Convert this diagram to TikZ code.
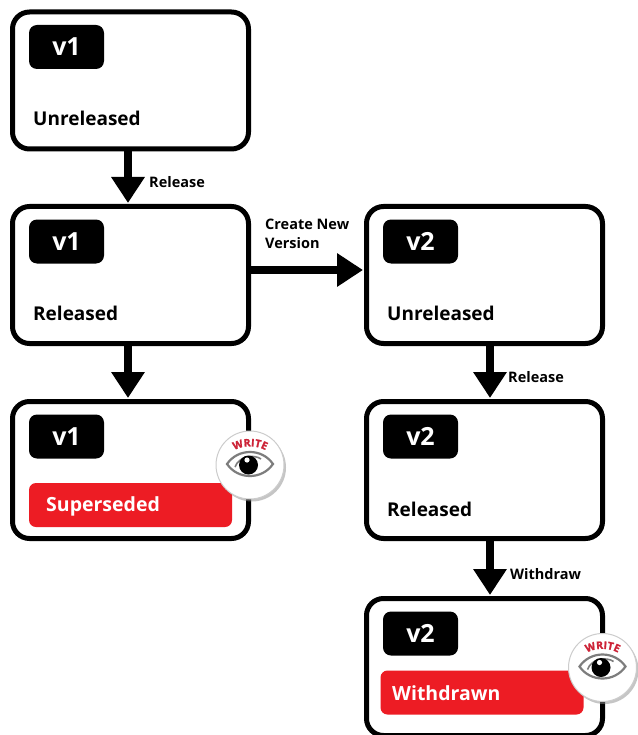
\documentclass[tikz,border=0pt]{standalone}
\usepackage{xcolor}
\usepackage{fontspec}
\setmainfont{Open Sans}
\newfontfamily\badgefont[FakeBold=1.5]{Open Sans}
\usetikzlibrary{arrows.meta, shadows, decorations.text}
\definecolor{alertred}{RGB}{237, 28, 36}
\definecolor{writered}{RGB}{205, 35, 55}
\definecolor{eyegray}{RGB}{125, 125, 125}
\tikzset{
    statebox/.style={draw=black, fill=white, line width=5pt, rounded corners=17pt, minimum width=236pt, minimum height=137pt},
    versiontag/.style={fill=black, text=white, rounded corners=8pt, minimum width=75pt, minimum height=44pt, font=\fontsize{25}{25}\selectfont\bfseries},
    statelabel/.style={anchor=base west, inner sep=0pt, font=\fontsize{19}{19}\selectfont\bfseries},
    alertbar/.style={fill=alertred, rounded corners=7pt, minimum width=203pt, minimum height=44pt},
    alertlabel/.style={statelabel, font=\fontsize{19.5}{19.5}\selectfont\bfseries, text=white},
    flowlabel/.style={anchor=base west, inner sep=0pt, align=left, font=\fontsize{14.5}{19}\selectfont\bfseries},
    flowarrow/.style={-{Triangle[length=26pt, width=32pt]}, line width=8.5pt, draw=black, shorten >=1pt},
    pics/writebadge/.style={code={
        \node[circle, fill=white, draw=black!20, line width=1pt, minimum size=68pt, drop shadow={shadow xshift=2pt, shadow yshift=-2.5pt, fill=black!45}] (-disc) at (0, 0) {};
        \path[decorate, decoration={text along path, text align=center, text color=writered, text={|\fontsize{10.5}{10.5}\badgefont\bfseries|WRITE}}] (-18, -13) .. controls (-9, -20.5) and (9, -20.5) .. (18, -13);
        \draw[eyegray, line width=2.2pt] (-23, -1) .. controls (-12, -17) and (12, -17) .. (23, -1) .. controls (12, 15) and (-12, 15) .. (-23, -1) -- cycle;
        \draw[eyegray, line width=1.6pt] (-15, 2) .. controls (-11, -9) and (4, -11) .. (11, -6);
        \fill[black] (-1.5, 0) circle (9.5);
        \fill[white] (-3, -5) circle (2.6);
    }}
}
\begin{document}
\begin{tikzpicture}[x=1pt, y=-1pt]
    \useasboundingbox (0, 0) rectangle (637, 735);

    % v1 Unreleased
    \node[statebox] (unrelA) at (130.5, 80.5) {};
    \node[versiontag] (tagA) at (66.5, 47) {v1};
    \node[statelabel] (unrelAtext) at (33, 126) {Unreleased};

    % v1 Released
    \node[statebox] (relA) at (130.5, 275) {};
    \node[versiontag] (tagB) at (66.5, 241.5) {v1};
    \node[statelabel] (relAtext) at (33, 320) {Released};

    % v1 Superseded
    \node[statebox] (supA) at (130.5, 470) {};
    \node[versiontag] (tagC) at (66.5, 436.5) {v1};
    \node[alertbar] (supAbar) at (130.5, 505) {};
    \node[alertlabel] (supAtext) at (46, 511) {Superseded};

    % v2 Unreleased
    \node[statebox] (unrelB) at (484.5, 275) {};
    \node[versiontag] (tagD) at (420.5, 241.5) {v2};
    \node[statelabel] (unrelBtext) at (387, 320) {Unreleased};

    % v2 Released
    \node[statebox] (relB) at (484.5, 470) {};
    \node[versiontag] (tagE) at (420.5, 436.5) {v2};
    \node[statelabel] (relBtext) at (387, 516) {Released};

    % v2 Withdrawn
    \node[statebox] (wdrB) at (484.5, 667) {};
    \node[versiontag] (tagF) at (420.5, 633.5) {v2};
    \node[alertbar] (wdrBbar) at (482, 692.5) {};
    \node[alertlabel] (wdrBtext) at (392, 700) {Withdrawn};

    % Write badges
    \pic (badgeA) at (250, 465) {writebadge};
    \pic (badgeB) at (602.5, 667.5) {writebadge};

    % Connections
    \draw[flowarrow] ([xshift=-2.5pt]unrelA.south) -- ([xshift=-2.5pt]relA.north);
    \draw[flowarrow] ([xshift=-2.5pt]relA.south) -- ([xshift=-2.5pt]supA.north);
    \draw[flowarrow] ([yshift=5pt]relA.east) -- ([yshift=5pt]unrelB.west);
    \draw[flowarrow] ([xshift=5.5pt]unrelB.south) -- ([xshift=5.5pt]relB.north);
    \draw[flowarrow] ([xshift=5.5pt]relB.south) -- ([xshift=5.5pt]wdrB.north);

    % Flow labels
    \node[flowlabel] (relLabelA) at (149, 188) {Release};
    \node[flowlabel] (newLabel) at (265, 248) {Create New\\Version};
    \node[flowlabel] (relLabelB) at (508, 382) {Release};
    \node[flowlabel] (wdrLabel) at (510, 579) {Withdraw};
\end{tikzpicture}
\end{document}
